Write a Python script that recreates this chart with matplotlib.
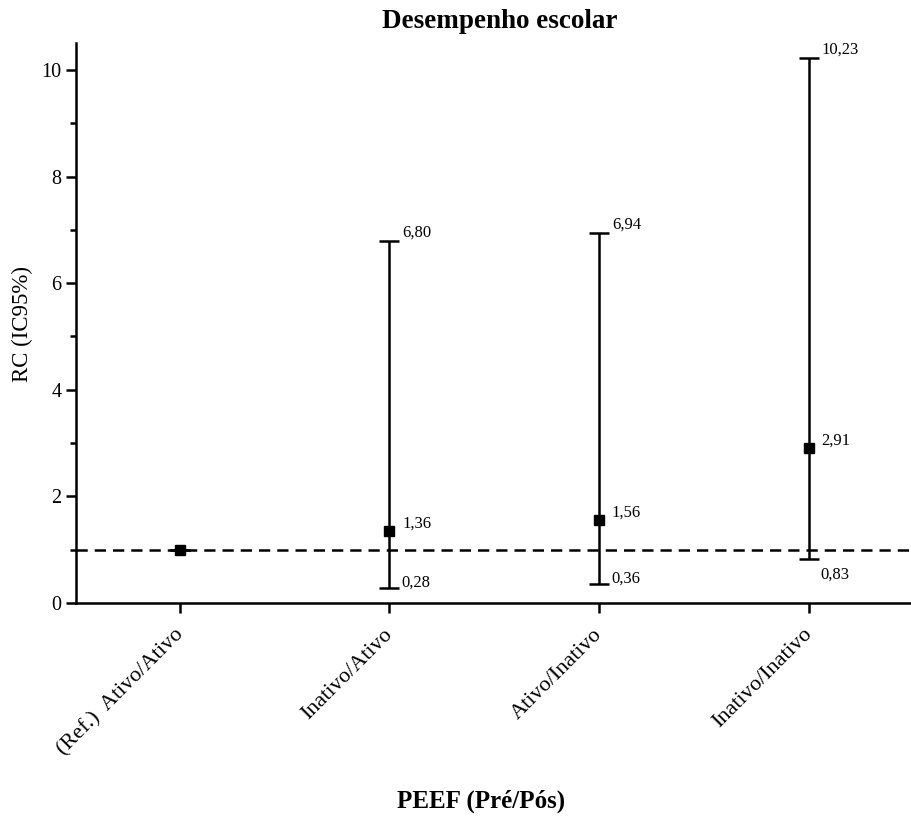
import matplotlib.pyplot as plt
import numpy as np

plt.rcParams['font.family'] = ['Liberation Serif', 'DejaVu Serif']

# groups and odds ratios (95% CI)
groups = ['(Ref.)  Ativo/Ativo', 'Inativo/Ativo', 'Ativo/Inativo', 'Inativo/Inativo']
rc = [1.0, 1.36, 1.56, 2.91]
ic_low = [1.0, 0.28, 0.36, 0.83]
ic_high = [1.0, 6.80, 6.94, 10.23]
rc_txt = ['', '1,36', '1,56', '2,91']
low_txt = ['', '0,28', '0,36', '0,83']
high_txt = ['', '6,80', '6,94', '10,23']

fig = plt.figure(figsize=(9.12, 8.16), dpi=100)
ax = fig.add_axes([0.0833, 0.261, 0.915, 0.686])

x = np.arange(len(groups))
rc = np.array(rc)
yerr = [rc - np.array(ic_low), np.array(ic_high) - rc]

ax.axhline(1, color='black', lw=1.8, ls=(0, (4.5, 2.8)), zorder=1)
ax.errorbar(x, rc, yerr=yerr, fmt='s', color='black', ms=7, lw=1.8,
            capsize=7, capthick=1.8, zorder=3)

for i in range(1, len(groups)):
    ax.annotate(high_txt[i], (x[i], ic_high[i]), xytext=(13, 8),
                textcoords='offset pixels', fontsize=12, va='center')
    ax.annotate(rc_txt[i], (x[i], rc[i]), xytext=(13, 7),
                textcoords='offset pixels', fontsize=12, va='center')
    dy = -16 if ic_low[i] > 0.5 else 5
    ax.annotate(low_txt[i], (x[i], ic_low[i]), xytext=(12, dy),
                textcoords='offset pixels', fontsize=12, va='center')

ax.set_xlim(-0.495, 3.486)
ax.set_ylim(0, 10.5)
ax.set_yticks([0, 2, 4, 6, 8, 10])
ax.set_yticks([1, 3, 5, 7, 9], minor=True)
ax.set_xticks(x)
ax.set_xticklabels([])
# rotated category labels, nudged like the original
for i, g in enumerate(groups):
    ax.annotate(g, (x[i], 0), xycoords=('data', 'axes fraction'),
                xytext=(-6, -22), textcoords='offset pixels', fontsize=16,
                rotation=45, ha='right', va='top', rotation_mode='anchor')

for s in ['top', 'right']:
    ax.spines[s].set_visible(False)
for s in ['left', 'bottom']:
    ax.spines[s].set_linewidth(1.8)
ax.tick_params(axis='both', which='major', width=1.8, length=7)
ax.tick_params(axis='y', labelsize=14.5)
ax.tick_params(axis='y', which='minor', width=1.8, length=4)

fig.text(22 / 912, 1 - 324 / 816, 'RC (IC95%)', fontsize=16.5, rotation=90,
         ha='center', va='center')
fig.text(500 / 912, 1 - 22 / 816, 'Desempenho escolar', fontsize=19.5,
         fontweight='bold', ha='center', va='center')
fig.text(481 / 912, 1 - 801 / 816, 'PEEF (Pré/Pós)', fontsize=18,
         fontweight='bold', ha='center', va='center')

plt.savefig('out.png', dpi=100)
